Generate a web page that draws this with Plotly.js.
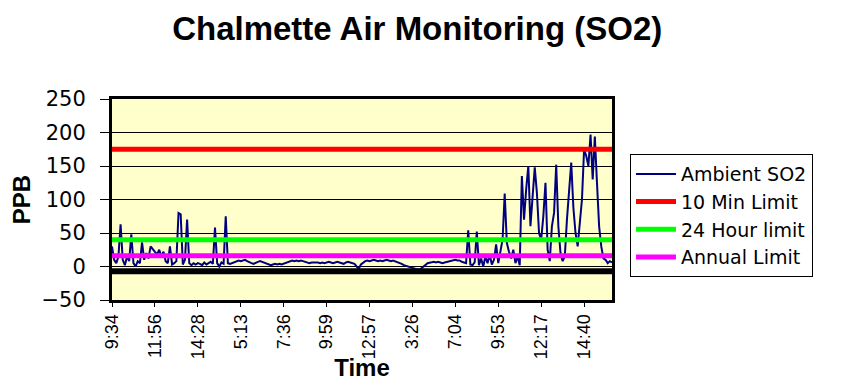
<!DOCTYPE html>
<html><head><meta charset="utf-8">
<script src="https://cdn.plot.ly/plotly-3.0.1.min.js"></script>
<style>html,body{margin:0;padding:0;background:#fff}</style>
</head><body><div id="chart" style="width:848px;height:381px"></div>
<script>
const tickLabels = ["9:34","11:56","14:28","5:13","7:36","9:59","12:57","3:26","7:04","9:53","12:17","14:40"];
const ambientSO2 = [
30,10,5,15,63,10,2,15,8,48,
5,0,8,5,36,10,20,12,30,25,
22,18,25,15,22,8,5,30,3,5,
8,80,78,3,10,70,5,2,5,3,
5,4,2,6,3,5,7,4,58,5,
0,6,4,75,5,4,5,6,8,9,
8,9,10,8,6,5,4,6,7,8,
7,6,5,4,2,3,4,3,4,3,
4,5,7,8,9,8,9,8,9,8,
7,6,5,6,6,7,6,5,6,5,
6,7,6,5,6,7,6,5,4,6,
7,6,5,4,0,-3,3,6,8,9,
8,9,10,9,8,9,8,9,10,9,
8,9,8,7,6,4,2,1,0,-1,
-2,-3,-4,-5,-3,-1,2,5,6,6,
7,6,7,6,5,6,7,8,9,9,
10,9,9,7,6,5,54,3,2,6,
52,2,12,0,15,5,18,3,10,33,
5,20,40,109,35,22,12,25,5,15,
2,135,70,115,150,60,105,148,110,50,
40,75,125,25,8,60,80,152,60,20,
8,15,70,110,155,88,50,30,65,100,
175,165,150,197,130,194,125,60,30,12,
10,5,8,6];
const tenMinLimit = 175;
const hour24Limit = 40;
const annualLimit = 16;
const axisBaseline = -7;
const pointsPerLabel = 20;

const idx = ambientSO2.map((_, i) => i);
const flat = v => idx.map(() => v);
const tickIdx = tickLabels.map((_, i) => i * pointsPerLabel);

const traces = [
  {x: idx, y: ambientSO2, name: "Ambient SO2", mode: "lines", line: {color: "#000080", width: 2}},
  {x: idx, y: flat(tenMinLimit), name: "10 Min Limit", mode: "lines", line: {color: "#ff0000", width: 5}},
  {x: idx, y: flat(hour24Limit), name: "24 Hour limit", mode: "lines", line: {color: "#00ff00", width: 5}},
  {x: idx, y: flat(annualLimit), name: "Annual Limit", mode: "lines", line: {color: "#ff00ff", width: 5}},
  {x: idx, y: flat(axisBaseline), name: "", mode: "lines", showlegend: false, hoverinfo: "skip", line: {color: "#000000", width: 6}}
];

const layout = {
  width: 848, height: 381,
  margin: {l: 112, r: 236, t: 99, b: 81},
  paper_bgcolor: "#ffffff",
  plot_bgcolor: "#ffffcc",
  font: {family: "DejaVu Sans, sans-serif", color: "#000"},
  title: {text: "Chalmette Air Monitoring (SO2)", font: {family: "Liberation Sans, Arial, sans-serif", size: 33, weight: "bold", color: "#000"},
          x: 0.492, xanchor: "center", y: 0.925, yref: "container", yanchor: "middle"},
  xaxis: {
    range: [0, ambientSO2.length - 1],
    tickmode: "array", tickvals: tickIdx, ticktext: tickLabels,
    tickangle: -90,
    tickfont: {family: "Liberation Sans, Arial, sans-serif", size: 18},
    ticks: "outside", ticklen: 4, tickwidth: 1, tickcolor: "#000",
    showgrid: false, zeroline: false,
    showline: true, linecolor: "#000", linewidth: 3, mirror: true,
    title: {text: "Time", font: {family: "Liberation Sans, Arial, sans-serif", size: 24, weight: "bold"}, standoff: 2}
  },
  yaxis: {
    range: [-50, 250], tickvals: [-50, 0, 50, 100, 150, 200, 250],
    tickfont: {family: "DejaVu Sans, sans-serif", size: 21},
    ticks: "outside", ticklen: 9, tickwidth: 1, tickcolor: "#000",
    ticklabelstandoff: 10,
    showgrid: true, gridcolor: "#000", gridwidth: 1,
    zeroline: false,
    showline: true, linecolor: "#000", linewidth: 3, mirror: true,
    title: {text: "PPB", font: {family: "Liberation Sans, Arial, sans-serif", size: 24, weight: "bold"}, standoff: 5}
  },
  legend: {
    x: 1.036, y: 0.726, xanchor: "left", yanchor: "top",
    bgcolor: "#ffffff", bordercolor: "#000", borderwidth: 1,
    font: {family: "DejaVu Sans, sans-serif", size: 19},
    itemwidth: 40, tracegroupgap: 0
  },
  showlegend: true
};

Plotly.newPlot("chart", traces, layout, {displayModeBar: false, staticPlot: true});
</script></body></html>
